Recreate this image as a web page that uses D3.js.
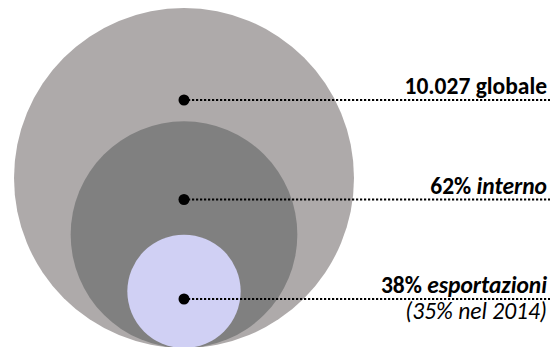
<!DOCTYPE html>
<html>
<head>
<meta charset="utf-8">
<script src="https://cdn.jsdelivr.net/npm/d3@7/dist/d3.min.js"></script>
<style>
  html, body { margin: 0; padding: 0; background: #ffffff; }
  svg { display: block; }
  text { font-family: Carlito, Calibri, Lato, "Open Sans", sans-serif; fill: #000; }
</style>
</head>
<body>
<div id="chart"></div>
<script>
// Nested segments of the market, outermost first
const segments = ["globale", "interno", "esportazioni"];
const figures  = ["10.027", "62%", "38%"];
const shares   = [1, 0.62, 0.38];
const notes    = ["", "", "(35% nel 2014)"];
const fills    = ["#aeaaaa", "#808080", "#d0d0f4"];

const width = 552, height = 347;
const cx = 184;          // common centre line of the circles
const baseY = 348;       // circles all rest on this line
const R = 170;           // radius of the outer circle
const labelRight = 547;
const leaderEnd = 550;

const rows = segments.map((s, i) => ({
  segment: s, figure: figures[i], share: shares[i], note: notes[i], fill: fills[i], depth: i
}));

const svg = d3.select("#chart").append("svg")
  .attr("width", width).attr("height", height);

// radius shrinks by nesting depth
const r = d3.scaleLinear().domain([0, segments.length]).range([R, 0]);
// marker rows, evenly spaced
const y = d3.scalePoint().domain(segments).range([100, 299]);

svg.append("g").selectAll("circle")
  .data(rows)
  .join("circle")
  .attr("cx", cx)
  .attr("cy", d => baseY - r(d.depth))
  .attr("r", d => r(d.depth))
  .attr("fill", d => d.fill);

// dotted leader lines
svg.append("g").selectAll("line")
  .data(rows)
  .join("line")
  .attr("x1", cx + 4)
  .attr("x2", leaderEnd)
  .attr("y1", d => y(d.segment))
  .attr("y2", d => y(d.segment))
  .attr("stroke", "#000")
  .attr("stroke-width", 2.2)
  .attr("stroke-dasharray", "2.2,1.8");

// marker dots
svg.append("g").selectAll("circle")
  .data(rows)
  .join("circle")
  .attr("cx", cx)
  .attr("cy", d => y(d.segment))
  .attr("r", 5.5)
  .attr("fill", "#000");

// labels
const labels = svg.append("g").selectAll("text")
  .data(rows)
  .join("text")
  .attr("x", labelRight)
  .attr("y", d => y(d.segment) - 6)
  .attr("text-anchor", "end")
  .style("font-size", "23.5px")
  .style("font-weight", "bold");

labels.append("tspan").text(d => d.figure + " ");
labels.append("tspan")
  .style("font-style", d => d.depth === 0 ? "normal" : "italic")
  .text(d => d.segment);

svg.append("g").selectAll("text")
  .data(rows.filter(d => d.note))
  .join("text")
  .attr("x", labelRight)
  .attr("y", d => y(d.segment) + 20)
  .attr("text-anchor", "end")
  .style("font-size", "23.5px")
  .style("font-style", "italic")
  .text(d => d.note);
</script>
</body>
</html>
